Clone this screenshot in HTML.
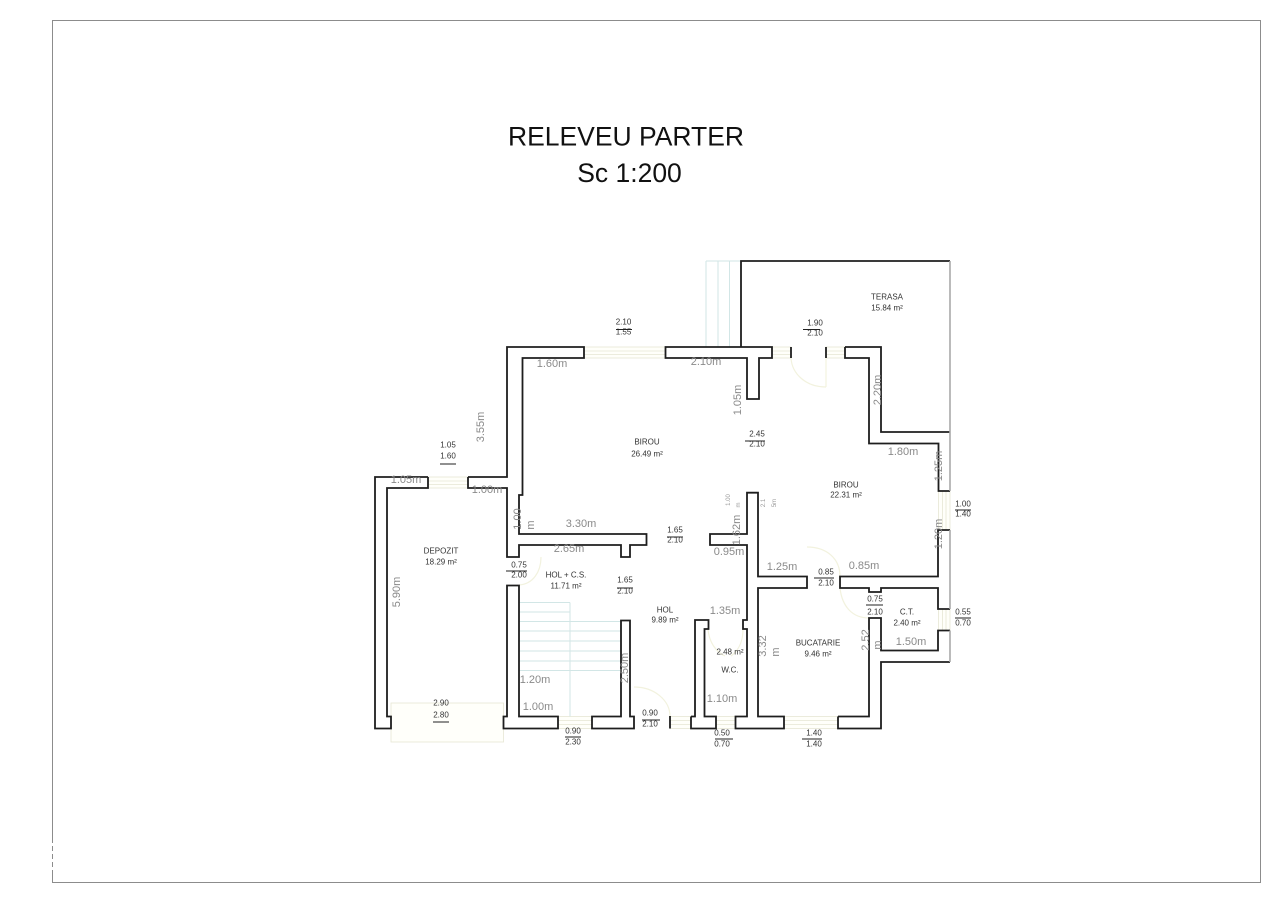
<!DOCTYPE html>
<html><head><meta charset="utf-8"><style>
html,body{margin:0;padding:0;background:#fff}
svg{display:block}
text{font-family:"Liberation Sans",sans-serif}
.t{font-size:26.500px;fill:#111;text-anchor:middle}
.d{font-size:11px;fill:#8a8a8a;text-anchor:middle;dominant-baseline:central}
.l{font-size:8px;fill:#333;text-anchor:middle;dominant-baseline:central}
.tiny{font-size:6px;fill:#999;text-anchor:middle;dominant-baseline:central}
.w{fill:none;stroke:#1e1e1e;stroke-width:1.8}
.g{fill:none;stroke:#aaa;stroke-width:1.6}
.y{fill:#fffffa;stroke:#e6e6d4;stroke-width:.8}
.a{fill:none;stroke:#f2f2de;stroke-width:1.2}
.b{fill:none;stroke:#d2e6e6;stroke-width:1}
.u{stroke:#222;stroke-width:1.1}
</style></head><body>
<svg width="1280" height="905" viewBox="0 0 1280 905" xmlns="http://www.w3.org/2000/svg">
<rect width="1280" height="905" fill="#fff"/>
<path d="M52.500 20.500H1260.500V882.500H52.500Z" fill="none" stroke="#8c8c8c" stroke-width="1"/>
<path d="M52.500 843V870" stroke="#fff" stroke-width="1.5" stroke-dasharray="3 5" fill="none"/>
<text class="t" x="626" y="145.500">RELEVEU PARTER</text>
<text class="t" x="629.500" y="182">Sc 1:200</text>

<!-- pale windows and openings -->
<g class="y">
<rect x="428" y="477" width="40" height="11"/><path d="M428 481H468M428 484.500H468"/>
<rect x="584" y="347" width="81.500" height="11"/><path d="M584 351H665M584 354.500H665"/>
<rect x="772" y="347" width="19" height="11"/><path d="M772 351H791M772 354.500H791"/>
<rect x="826" y="347" width="19" height="11"/><path d="M826 351H845M826 354.500H845"/>
<rect x="938.500" y="491" width="11.500" height="39"/><path d="M942.500 491V530M946 491V530"/>
<rect x="938.500" y="609" width="11.500" height="21.500"/><path d="M942.500 609V630M946 609V630"/>
<rect x="784" y="716.500" width="54" height="12"/><path d="M784 720.500H838M784 724.500H838"/>
<rect x="558" y="716.500" width="34" height="12"/><path d="M558 720.500H592M558 724.500H592"/>
<rect x="670" y="716.500" width="21" height="12"/><path d="M670 720.500H691M670 724.500H691"/>
<rect x="716" y="716.500" width="19.500" height="12"/><path d="M716 720.500H735M716 724.500H735"/>
<rect x="391" y="703" width="112.500" height="39"/>
</g>

<!-- door swings -->
<g class="a">
<path d="M791 358C792 374 806 387 826 387"/>
<path d="M826 358V387" />
<path d="M519 585C533 584 541 572 541 557"/>
<path d="M634 687C654 687 670 700 670 716.500"/>
<path d="M807 547C826 547 840 558 840 576.500"/>
<path d="M840 588C842 606 852 618 869 618"/>
<path d="M708 629C709 642 716 652 725 656"/>
<path d="M743 629C743 642 738 651 731 656"/>
</g>

<!-- stairs -->
<g class="b">
<path d="M706 261V347M718 261V347M729.500 261V347M706 261H741"/>
<path d="M519 602.500H570M519 612H570M519 621.500H621M519 631H621M519 641H621M519 651H621M519 661H621M519 670.500H621M570 602.500V716.500"/>
</g>

<!-- walls -->
<g class="w">
<path d="M428 477H375V728.500H391V716.500H387V488H428V477"/>
<path d="M468 477V488H507V557H519V545H621V557H630V545H646.500V534H519V495H522.500V358H584V347H507V477H468"/>
<path d="M507 585.500V716.500H503.500V728.500H558V716.500H519V585.500Z"/>
<path d="M592 716.500V728.500H634V716.500H630V620.500H621V716.500H592Z"/>
<path d="M670 716V728.500"/>
<path d="M691 716.500V728.500H716V716.500H704.500V629H708.500V620H695V716.500H691"/>
<path d="M735.500 716.500V728.500H784V716.500H758V588H807V576.500H758V492.700H747V534H710V545H747V620H743V629H747V716.500H735.500Z"/>
<path d="M838 716.500V728.500H881V662H950M838 716.500H869V618H881V650.500H938V630.500H950"/>
<path d="M950 609H938V588H881V592H869V588H840V576.500H938V530H950"/>
<path d="M665.500 347H772V358H759V399H747V358H665.500Z"/>
<path d="M741 347V261H950"/>
<path d="M791 347V358M826 347V358"/>
<path d="M845 347H881V432H950M845 347V358H869V443.500H938.500V491H950"/>
</g>
<path class="g" d="M950 261V491M950 530V609M950 630.500V662"/>

<!-- dimension labels -->
<g class="d">
<text x="552" y="364">1.60m</text>
<text x="706" y="362">2.10m</text>
<text x="406" y="480">1.05m</text>
<text x="487" y="490">1.00m</text>
<text x="903" y="452">1.80m</text>
<text x="581" y="524">3.30m</text>
<text x="569" y="549">2.65m</text>
<text x="729" y="552">0.95m</text>
<text x="782" y="567">1.25m</text>
<text x="864" y="566">0.85m</text>
<text x="911" y="642">1.50m</text>
<text x="725" y="611">1.35m</text>
<text x="535" y="680">1.20m</text>
<text x="538" y="707">1.00m</text>
<text x="722" y="699">1.10m</text>
<text transform="translate(481 427) rotate(-90)">3.55m</text>
<text transform="translate(738 400) rotate(-90)">1.05m</text>
<text transform="translate(878 390) rotate(-90)">2.20m</text>
<text transform="translate(939 466) rotate(-90)">1.25m</text>
<text transform="translate(939 534) rotate(-90)">1.20m</text>
<text transform="translate(518 519) rotate(-90)">1.00</text>
<text transform="translate(531 525) rotate(-90)">m</text>
<text transform="translate(737 530) rotate(-90)">1.62m</text>
<text transform="translate(397 592) rotate(-90)">5.90m</text>
<text transform="translate(763 646) rotate(-90)">3.32</text>
<text transform="translate(776 652) rotate(-90)">m</text>
<text transform="translate(866 640) rotate(-90)">2.52</text>
<text transform="translate(878 645) rotate(-90)">m</text>
<text transform="translate(625 668) rotate(-90)">2.50m</text>
</g>
<g class="tiny">
<text transform="translate(729 500) rotate(-90)">1.00</text>
<text transform="translate(739 505) rotate(-90)">m</text>
<text transform="translate(764 503) rotate(-90)">2.1</text>
<text transform="translate(775 503) rotate(-90)">5m</text>
</g>

<!-- room labels and opening sizes -->
<g class="l">
<text x="623.500" y="322">2.10</text><text x="623.500" y="332">1.55</text>
<text x="815" y="323">1.90</text><text x="815" y="333">2.10</text>
<text x="887" y="297">TERASA</text><text x="887" y="308">15.84 m²</text>
<text x="448" y="445">1.05</text><text x="448" y="456">1.60</text>
<text x="647" y="442">BIROU</text><text x="647" y="454">26.49 m²</text>
<text x="757" y="434">2.45</text><text x="757" y="444">2.10</text>
<text x="846" y="485">BIROU</text><text x="846" y="495">22.31 m²</text>
<text x="963" y="504">1.00</text><text x="963" y="514">1.40</text>
<text x="675" y="530">1.65</text><text x="675" y="540">2.10</text>
<text x="519" y="565">0.75</text><text x="519" y="575">2.00</text>
<text x="566" y="575">HOL + C.S.</text><text x="566" y="586">11.71 m²</text>
<text x="625" y="580">1.65</text><text x="625" y="591">2.10</text>
<text x="826" y="572">0.85</text><text x="826" y="583">2.10</text>
<text x="875" y="599">0.75</text><text x="875" y="612">2.10</text>
<text x="907" y="612">C.T.</text><text x="907" y="623">2.40 m²</text>
<text x="963" y="612">0.55</text><text x="963" y="623">0.70</text>
<text x="665" y="610">HOL</text><text x="665" y="620">9.89 m²</text>
<text x="441" y="551">DEPOZIT</text><text x="441" y="562">18.29 m²</text>
<text x="730" y="652">2.48 m²</text><text x="730" y="670">W.C.</text>
<text x="818" y="643">BUCATARIE</text><text x="818" y="654">9.46 m²</text>
<text x="441" y="703">2.90</text><text x="441" y="715">2.80</text>
<text x="573" y="731">0.90</text><text x="573" y="742">2.30</text>
<text x="650" y="713">0.90</text><text x="650" y="724">2.10</text>
<text x="722" y="733">0.50</text><text x="722" y="744">0.70</text>
<text x="814" y="733">1.40</text><text x="814" y="744">1.40</text>
</g>
<g class="u">
<path d="M616 329.500H632M803 329.500H820M440 464H456M745 441H765M955 510H971M667 537H683M506 571H527M617 588H633M814 578H834M866 605H883M955 618H971M433 722H449M565 737H581M642 720H660M715 739H733M802 739H822"/>
</g>
</svg>
</body></html>
